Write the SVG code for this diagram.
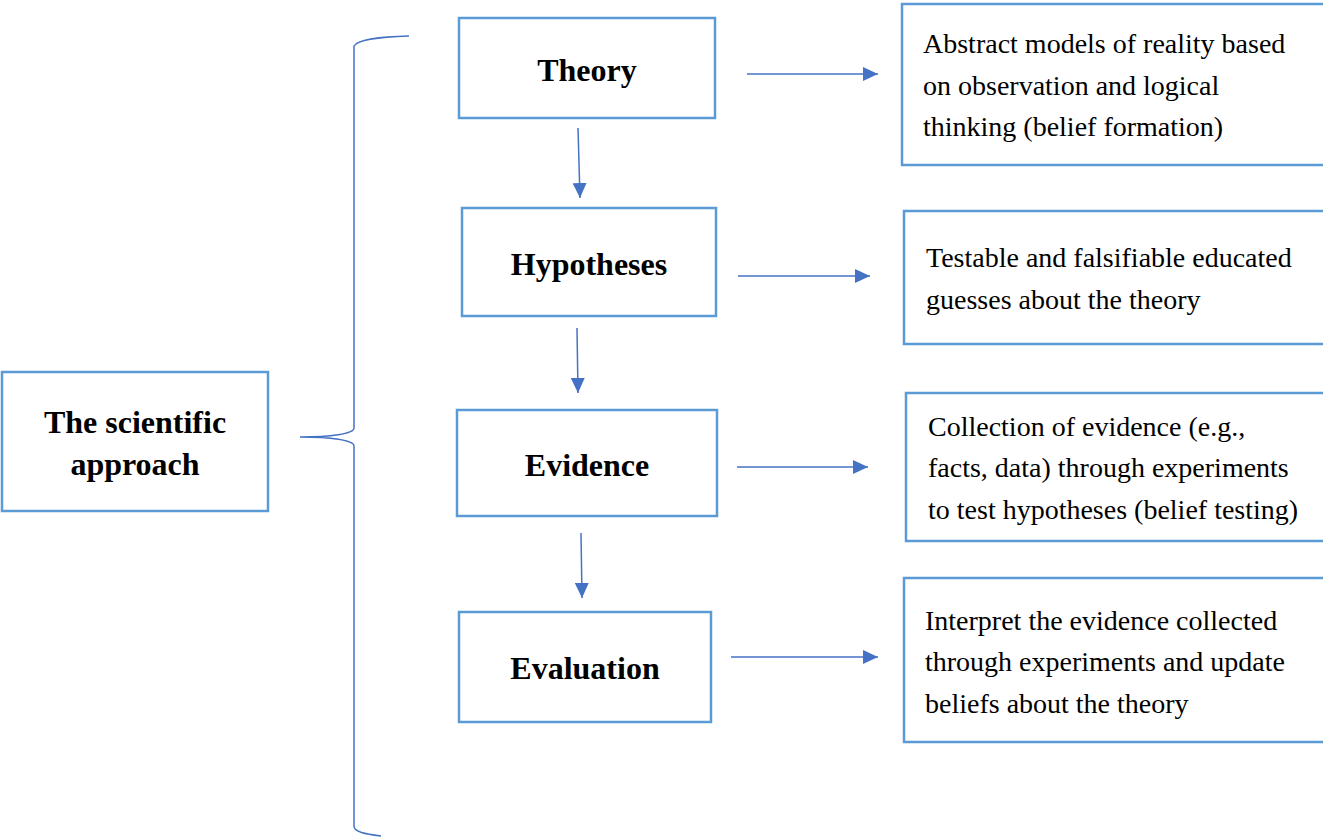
<svg xmlns="http://www.w3.org/2000/svg" width="1323" height="837" viewBox="0 0 1323 837">
<defs>
<marker id="ah" markerWidth="15" markerHeight="14" refX="15" refY="7" orient="auto" markerUnits="userSpaceOnUse" viewBox="0 0 15 14">
<path d="M0,0 L15,7 L0,14 z" fill="#4472C4"/>
</marker>
<style>
.box{fill:#fff;stroke:#5B9BD5;stroke-width:2.5}
.lbl{font-family:"Liberation Serif","Times New Roman",serif;font-weight:bold;font-size:32px;fill:#000;text-anchor:middle}
.desc{font-family:"Liberation Serif","Times New Roman",serif;font-size:28px;fill:#000}
.conn{stroke:#4472C4;stroke-width:1.5;fill:none}
.arr{stroke:#4472C4;stroke-width:1.5;fill:none;marker-end:url(#ah)}
</style>
</defs>
<rect width="1323" height="837" fill="#fff"/>
<g id="approach">
<rect class="box" x="2" y="372" width="266" height="139"/>
<text class="lbl" x="135" y="433">The scientific</text>
<text class="lbl" x="135" y="475">approach</text>
</g>
<g id="theory">
<rect class="box" x="459" y="18" width="256" height="100"/>
<text class="lbl" x="587" y="81">Theory</text>
</g>
<g id="hypotheses">
<rect class="box" x="462" y="208" width="254" height="108"/>
<text class="lbl" x="589" y="275">Hypotheses</text>
</g>
<g id="evidence">
<rect class="box" x="457" y="410" width="260" height="106"/>
<text class="lbl" x="587" y="476">Evidence</text>
</g>
<g id="evaluation">
<rect class="box" x="459" y="612" width="252" height="110"/>
<text class="lbl" x="585" y="679">Evaluation</text>
</g>
<g id="desc-theory">
<rect class="box" x="902" y="4" width="430" height="161"/>
<text class="desc" x="923" y="53">Abstract models of reality based</text>
<text class="desc" x="923" y="95">on observation and logical</text>
<text class="desc" x="923" y="136">thinking (belief formation)</text>
</g>
<g id="desc-hypotheses">
<rect class="box" x="904" y="211" width="430" height="133"/>
<text class="desc" x="926" y="267">Testable and falsifiable educated</text>
<text class="desc" x="926" y="309">guesses about the theory</text>
</g>
<g id="desc-evidence">
<rect class="box" x="906" y="393" width="430" height="148"/>
<text class="desc" x="928" y="436">Collection of evidence (e.g.,</text>
<text class="desc" x="928" y="477">facts, data) through experiments</text>
<text class="desc" x="928" y="519">to test hypotheses (belief testing)</text>
</g>
<g id="desc-evaluation">
<rect class="box" x="904" y="578" width="430" height="164"/>
<text class="desc" x="925" y="630">Interpret the evidence collected</text>
<text class="desc" x="925" y="671">through experiments and update</text>
<text class="desc" x="925" y="713">beliefs about the theory</text>
</g>
<g id="connectors">
<path class="conn" d="M409,36 C380,37 358,39 354,46 L354,428 C354,434 330,437 300,437 C330,437 354,440 354,446 L354,826 C354,832 365,834 381,836"/>
<line class="arr" x1="747" y1="74" x2="878" y2="74"/>
<line class="arr" x1="738" y1="276" x2="870" y2="276"/>
<line class="arr" x1="737" y1="467" x2="868" y2="467"/>
<line class="arr" x1="731" y1="657" x2="878" y2="657"/>
<line class="arr" x1="578" y1="128" x2="580" y2="198"/>
<line class="arr" x1="577" y1="328" x2="578" y2="393"/>
<line class="arr" x1="581" y1="533" x2="582" y2="598"/>
</g>
</svg>
